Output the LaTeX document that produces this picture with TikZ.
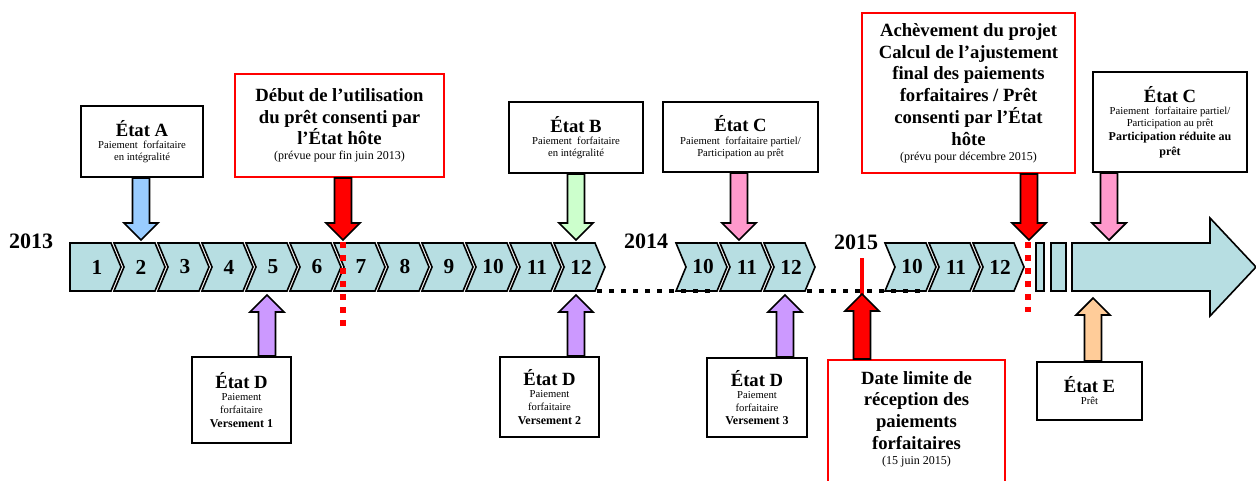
\documentclass[tikz,border=0pt]{standalone}
\usepackage{fontspec}
\setmainfont{Liberation Serif}
\usetikzlibrary{calc}

\definecolor{chevfill}{RGB}{183,222,226}
\definecolor{bleu}{RGB}{153,204,255}
\definecolor{vert}{RGB}{204,255,204}
\definecolor{rose}{RGB}{255,153,204}
\definecolor{violet}{RGB}{204,153,255}
\definecolor{orange}{RGB}{255,204,153}

\tikzset{every picture/.style={line width=1.2pt}}
\tikzset{
  chev/.style={draw, fill=chevfill, line width=1.2pt, line join=miter},
  num/.style={font=\fontsize{16}{18}\selectfont\bfseries, inner sep=0pt},
  year/.style={font=\fontsize{16.5}{18}\selectfont\bfseries, inner sep=0pt},
  boxsize/.style 2 args={minimum width=#1*0.75pt, minimum height=#2*0.75pt},
  infobox/.style={draw, line width=1.4pt, fill=white, align=center, inner sep=2pt, font=\petit},
  redbox/.style={infobox, draw=red, font=\grand},
  blockarr/.style={draw=black, line width=1.3pt, line join=miter},
  reddots/.style={red, line width=4.5pt, dash pattern=on 4.5pt off 5.25pt},
  blackdots/.style={black, line width=3.5pt, dash pattern=on 4pt off 5pt}
}
\newcommand{\petit}{\fontsize{8}{9}\selectfont}
\newcommand{\grand}{\fontsize{14}{16.3}\selectfont\bfseries}
\newcommand{\etat}[1]{{\fontsize{14}{16}\selectfont\bfseries #1}}
\newcommand{\note}[1]{{\fontsize{9}{10}\selectfont\mdseries #1}}
\newcommand{\gras}[1]{{\fontsize{9}{10}\selectfont\bfseries #1}}
% block arrow from #2 to #3, filled with #1
\newcommand{\blockarrow}[3]{%
  \coordinate (hb) at ($(#3)!12.75pt!(#2)$);
  \draw[blockarr, fill=#1] ($(#2)!6.4pt!90:(#3)$) -- ($(hb)!6.4pt!90:(#3)$) -- ($(hb)!12.75pt!90:(#3)$) -- (#3)
    -- ($(hb)!12.75pt!-90:(#3)$) -- ($(hb)!6.4pt!-90:(#3)$) -- ($(#2)!6.4pt!-90:(#3)$) -- cycle;
}

\begin{document}
\begin{tikzpicture}[x=0.75pt,y=0.75pt,yscale=-1]
\useasboundingbox (0,0) rectangle (1256,480);

% years
\node[year] (y2013) at (31,241) {2013};
\node[year] (y2014) at (646,241) {2014};
\node[year] (y2015) at (856,242) {2015};

% 2013 months
\draw[chev] (70,243) -- ++(41,0) -- ++(10,24) -- ++(-10,24) -- ++(-41,0) -- cycle;
\node[num] (m1) at (97,267) {1};
\foreach \k in {2,...,12} {
  \pgfmathsetmacro{\xo}{70+(\k-1)*44}
  \draw[chev] (\xo,243) -- ++(41,0) -- ++(10,24) -- ++(-10,24) -- ++(-41,0) -- ++(10,-24) -- cycle;
  \node[num] (m\k) at (\xo+27,267) {\k};
}
% 2014 months
\foreach \k [count=\i from 0] in {10,11,12} {
  \pgfmathsetmacro{\xo}{676+\i*44}
  \draw[chev] (\xo,243) -- ++(41,0) -- ++(10,24) -- ++(-10,24) -- ++(-41,0) -- ++(10,-24) -- cycle;
  \node[num] (n\k) at (\xo+27,267) {\k};
}
% 2015 months
\foreach \k [count=\i from 0] in {10,11,12} {
  \pgfmathsetmacro{\xo}{885+\i*44}
  \draw[chev] (\xo,243) -- ++(41,0) -- ++(10,24) -- ++(-10,24) -- ++(-41,0) -- ++(10,-24) -- cycle;
  \node[num] (p\k) at (\xo+27,267) {\k};
}
% end bars and big arrow
\draw[chev] (1036,243) rectangle (1044,291);
\draw[chev] (1051,243) rectangle (1066,291);
\draw[chev] (1072,243) -- (1210,243) -- (1210,218) -- (1256,267) -- (1210,316) -- (1210,291) -- (1072,291) -- cycle;

% gaps in time
\draw[blackdots] (597,291) -- (712,291);
\draw[blackdots] (807,291) -- (922,291);
\draw[reddots] (343,242) -- (343,326);
\draw[reddots] (1028,242) -- (1028,312);
\draw[red, line width=3.2pt] (862,258) -- (862,300);

% boxes above
\node[infobox, boxsize={122}{71}] (etatA) at (142,141.5)
  {\etat{État A}\\[0.5pt] Paiement~ forfaitaire\\ en intégralité};
\node[redbox, boxsize={209}{103}] (debut) at (339.5,125.5)
  {Début de l’utilisation\\ du prêt consenti par\\ l’État hôte\\[-5pt] \note{(prévue pour fin juin 2013)}};
\node[infobox, boxsize={134}{71}] (etatB) at (576,137.5)
  {\etat{État B}\\[0.5pt] Paiement~ forfaitaire\\ en intégralité};
\node[infobox, boxsize={155}{70}] (etatC) at (740.5,137)
  {\etat{État C}\\[0.5pt] Paiement~ forfaitaire partiel/\\ Participation au prêt};
\node[redbox, boxsize={213}{160}] (fin) at (968.5,93)
  {Achèvement du projet\\ Calcul de l’ajustement\\ final des paiements\\ forfaitaires / Prêt\\ consenti par l’État\\ hôte\\[-5pt] \note{(prévu pour décembre 2015)}};
\node[infobox, boxsize={154}{100}] (etatCbis) at (1170,122)
  {\etat{État C}\\[0pt] Paiement~ forfaitaire partiel/\\ Participation au prêt\\[2pt]
   \gras{Participation réduite au}\\[2pt] \gras{prêt}};

% boxes below
\node[infobox, boxsize={99}{86}] (etatDun) at (241.5,400)
  {\etat{État D}\\[0pt] Paiement\\[1pt] forfaitaire\\[1pt] \gras{Versement 1}};
\node[infobox, boxsize={99}{80}] (etatDdeux) at (549.5,397)
  {\etat{État D}\\[0pt] Paiement\\[1pt] forfaitaire\\[1pt] \gras{Versement 2}};
\node[infobox, boxsize={100}{79}] (etatDtrois) at (757,397.5)
  {\etat{État D}\\[0pt] Paiement\\[1pt] forfaitaire\\[1pt] \gras{Versement 3}};
\node[redbox, anchor=north, minimum width=177*0.75pt, inner sep=8.5pt] (limite) at (916.5,359)
  {Date limite de\\ réception des\\ paiements\\ forfaitaires\\[-5pt] \note{(15 juin 2015)}\\ \rule{0pt}{30pt}};
\node[infobox, boxsize={105}{58}] (etatE) at (1089.5,391)
  {\etat{État E}\\[0pt] Prêt};

% arrow tips on the time line
\coordinate (tA) at (141,240);
\coordinate (tDebut) at (343,240);
\coordinate (tB) at (576,240);
\coordinate (tC) at (739,240);
\coordinate (tFin) at (1029,240);
\coordinate (tCbis) at (1109,240);
\coordinate (tDun) at (267,295);
\coordinate (tDdeux) at (576,295);
\coordinate (tDtrois) at (785,295);
\coordinate (tLimite) at (862,294);
\coordinate (tE) at (1093,298);

\coordinate (sA) at (tA |- etatA.south);
\coordinate (sDebut) at (tDebut |- debut.south);
\coordinate (sB) at (tB |- etatB.south);
\coordinate (sC) at (tC |- etatC.south);
\coordinate (sFin) at (tFin |- fin.south);
\coordinate (sCbis) at (tCbis |- etatCbis.south);
\coordinate (sDun) at (tDun |- etatDun.north);
\coordinate (sDdeux) at (tDdeux |- etatDdeux.north);
\coordinate (sDtrois) at (tDtrois |- etatDtrois.north);
\coordinate (sLimite) at (tLimite |- limite.north);
\coordinate (sE) at (tE |- etatE.north);

\blockarrow{bleu}{sA}{tA}
\blockarrow{red}{sDebut}{tDebut}
\blockarrow{vert}{sB}{tB}
\blockarrow{rose}{sC}{tC}
\blockarrow{red}{sFin}{tFin}
\blockarrow{rose}{sCbis}{tCbis}
\blockarrow{violet}{sDun}{tDun}
\blockarrow{violet}{sDdeux}{tDdeux}
\blockarrow{violet}{sDtrois}{tDtrois}
\blockarrow{red}{sLimite}{tLimite}
\blockarrow{orange}{sE}{tE}

\end{tikzpicture}
\end{document}
